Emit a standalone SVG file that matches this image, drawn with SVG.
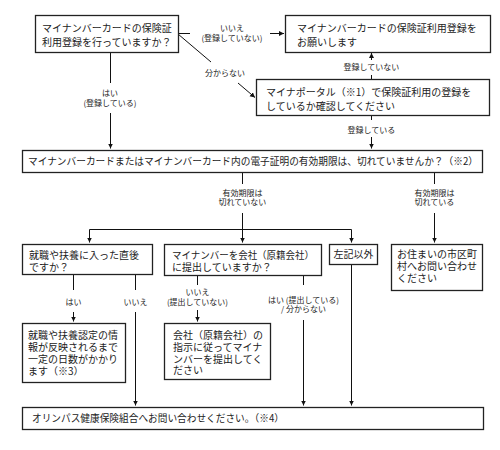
<svg xmlns="http://www.w3.org/2000/svg" width="500" height="450" viewBox="0 0 500 450">
<defs>
<marker id="ah" markerWidth="6" markerHeight="6" refX="5" refY="3" orient="auto" markerUnits="userSpaceOnUse">
<path d="M0,0.5 L5,3 L0,5.5 z" fill="#111"/>
</marker>
<style>
.box{fill:#fff;stroke:#222;stroke-width:1.3}
.t{font-family:"Noto Sans CJK JP","Noto Sans",sans-serif;font-size:10px;fill:#222}
.l{font-family:"Noto Sans CJK JP","Noto Sans",sans-serif;font-size:8px;fill:#222;text-anchor:middle}
.c{fill:none;stroke:#111;stroke-width:1}
.a{marker-end:url(#ah)}
</style>
</defs>
<rect width="500" height="450" fill="#fff"/>

<g id="connectors">
<!-- box1 -> box2 -->
<line class="c" x1="178" y1="33.5" x2="190" y2="33.5"/>
<line class="c a" x1="270" y1="33.5" x2="284" y2="33.5"/>
<text class="l" x="232" y="31">いいえ<tspan x="232" dy="10">(登録していない)</tspan></text>
<!-- box1 -> box3 diagonal -->
<line class="c" x1="178" y1="34" x2="211" y2="62"/>
<line class="c a" x1="238" y1="83" x2="255" y2="97.5"/>
<text class="l" x="225" y="76">分からない</text>
<!-- box1 -> box4 -->
<line class="c" x1="110.5" y1="52" x2="110.5" y2="83"/>
<line class="c a" x1="110.5" y1="113" x2="110.5" y2="148.5"/>
<text class="l" x="110" y="96">はい<tspan x="110" dy="10">(登録している)</tspan></text>
<!-- box3 -> box2 -->
<line class="c" x1="371.5" y1="79" x2="371.5" y2="75"/>
<line class="c a" x1="371.5" y1="60" x2="371.5" y2="53"/>
<text class="l" x="371.5" y="70">登録していない</text>
<!-- box3 -> box4 -->
<line class="c" x1="371.5" y1="115" x2="371.5" y2="120"/>
<line class="c a" x1="371.5" y1="137" x2="371.5" y2="148.5"/>
<text class="l" x="371.5" y="133">登録している</text>
<!-- box4 -> middle branch -->
<line class="c" x1="242.5" y1="172" x2="242.5" y2="184"/>
<text class="l" x="242.5" y="196">有効期限は<tspan x="242.5" dy="9">切れていない</tspan></text>
<line class="c" x1="242.5" y1="213" x2="242.5" y2="229.5"/>
<line class="c" x1="89.5" y1="229.5" x2="351.5" y2="229.5"/>
<line class="c a" x1="89.5" y1="229.5" x2="89.5" y2="242.5"/>
<line class="c a" x1="242.5" y1="229.5" x2="242.5" y2="242.5"/>
<line class="c a" x1="351.5" y1="229.5" x2="351.5" y2="242.5"/>
<!-- box4 -> box8 -->
<line class="c" x1="434.5" y1="172" x2="434.5" y2="184"/>
<text class="l" x="434.5" y="196">有効期限は<tspan x="434.5" dy="9">切れている</tspan></text>
<line class="c a" x1="434.5" y1="213" x2="434.5" y2="242.5"/>
<!-- box5 -> box9 -->
<line class="c" x1="73.5" y1="274" x2="73.5" y2="290"/>
<text class="l" x="73.5" y="305">はい</text>
<line class="c a" x1="73.5" y1="312" x2="73.5" y2="321.5"/>
<!-- box5 -> box10 -->
<line class="c" x1="135.5" y1="274" x2="135.5" y2="290"/>
<text class="l" x="135.5" y="305">いいえ</text>
<line class="c a" x1="135.5" y1="312" x2="135.5" y2="405.5"/>
<!-- box6 -> box11 -->
<line class="c" x1="197.5" y1="275" x2="197.5" y2="285"/>
<text class="l" x="197.5" y="295">いいえ<tspan x="197.5" dy="10">(提出していない)</tspan></text>
<line class="c a" x1="197.5" y1="310" x2="197.5" y2="321.5"/>
<!-- box6 -> box10 -->
<line class="c" x1="303.5" y1="275" x2="303.5" y2="285"/>
<text class="l" x="303.5" y="303">はい (提出している)<tspan x="303.5" dy="9">/ 分からない</tspan></text>
<line class="c a" x1="303.5" y1="320" x2="303.5" y2="405.5"/>
<!-- box7 -> box10 -->
<line class="c a" x1="351.5" y1="264" x2="351.5" y2="405.5"/>
</g>

<g id="n1">
<rect class="box" x="35.5" y="15.5" width="143" height="37"/>
<text class="t" x="42" y="32">マイナンバーカードの保険証<tspan x="42" dy="14">利用登録を行っていますか？</tspan></text>
</g>
<g id="n2">
<rect class="box" x="285.5" y="15.5" width="205" height="37"/>
<text class="t" x="297" y="32">マイナンバーカードの保険証利用登録を<tspan x="297" dy="14">お願いします</tspan></text>
</g>
<g id="n3">
<rect class="box" x="256.5" y="79.5" width="233" height="36"/>
<text class="t" x="266" y="96">マイナポータル（※1）で保険証利用の登録を<tspan x="266" dy="14">しているか確認してください</tspan></text>
</g>
<g id="n4">
<rect class="box" x="22.5" y="150.5" width="460" height="22"/>
<text class="t" x="28" y="165" textLength="450" lengthAdjust="spacingAndGlyphs">マイナンバーカードまたはマイナンバーカード内の電子証明の有効期限は、切れていませんか？（※2）</text>
</g>
<g id="n5">
<rect class="box" x="22.5" y="244.5" width="130" height="30"/>
<text class="t" x="29" y="258.5">就職や扶養に入った直後<tspan x="29" dy="12">ですか？</tspan></text>
</g>
<g id="n6">
<rect class="box" x="164.5" y="244.5" width="157" height="31"/>
<text class="t" x="172" y="258.5"><tspan textLength="142" lengthAdjust="spacingAndGlyphs">マイナンバーを会社（原籍会社）</tspan><tspan x="172" dy="12">に提出していますか？</tspan></text>
</g>
<g id="n7">
<rect class="box" x="329.5" y="244.5" width="48" height="20"/>
<text class="t" x="353.5" y="258" text-anchor="middle">左記以外</text>
</g>
<g id="n8">
<rect class="box" x="391.5" y="244.5" width="91" height="46"/>
<text class="t" x="397" y="257.5">お住まいの市区町<tspan x="397" dy="12">村へお問い合わせ</tspan><tspan x="397" dy="12">ください</tspan></text>
</g>
<g id="n9">
<rect class="box" x="22.5" y="323.5" width="103" height="59"/>
<text class="t" x="28" y="339">就職や扶養認定の情<tspan x="28" dy="12">報が反映されるまで</tspan><tspan x="28" dy="12">一定の日数がかかり</tspan><tspan x="28" dy="12">ます（※3）</tspan></text>
</g>
<g id="n10">
<rect class="box" x="164.5" y="323.5" width="106" height="56"/>
<text class="t" x="173" y="338.5">会社（原籍会社）の<tspan x="173" dy="12">指示に従ってマイナ</tspan><tspan x="173" dy="12">ンバーを提出してく</tspan><tspan x="173" dy="11.5">ださい</tspan></text>
</g>
<g id="n11">
<rect class="box" x="22.5" y="407.5" width="461" height="22"/>
<text class="t" x="32" y="422" textLength="252" lengthAdjust="spacingAndGlyphs">オリンパス健康保険組合へお問い合わせください。（※4）</text>
</g>
</svg>
